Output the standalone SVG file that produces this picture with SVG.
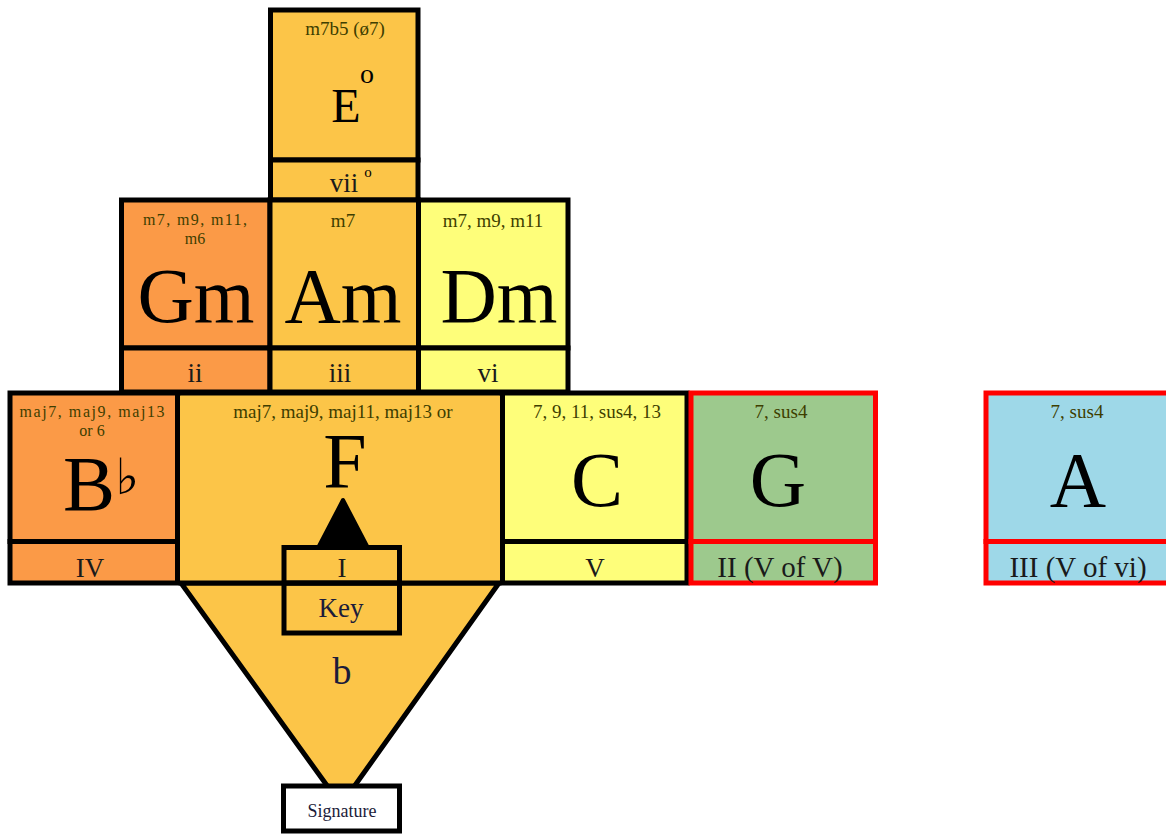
<svg xmlns="http://www.w3.org/2000/svg" width="1166" height="834" viewBox="0 0 1166 834">
<style>
.bx{stroke:#000;stroke-width:5}
.rd{stroke:#f00;stroke-width:5}
.o1{fill:#fcc548}
.o2{fill:#fb9a47}
.yl{fill:#fefe7a}
.gr{fill:#9dc98d}
.bl{fill:#9ed8e8}
text{font-family:"Liberation Serif","Times New Roman",serif;text-anchor:middle}
.sm{font-size:19px;fill:#3e3e00}
.sm2{font-size:16px;fill:#3e3e00}
.big{font-size:78px;fill:#000}
.num{font-size:27px;fill:#1a1a1a}
.nv{fill:#1c1c3a}
</style>
<g id="signature-cone">
<polygon points="181,583 499,583 341,805" class="o1 bx" stroke-linejoin="miter"/>
</g>
<g id="node-E">
<rect x="270.5" y="10" width="147.5" height="150" class="o1 bx"/>
<rect x="270.5" y="160" width="147.5" height="40" class="o1 bx"/>
<text x="345" y="35" class="sm">m7b5 (ø7)</text>
<text x="346" y="122" style="font-size:48px">E</text>
<text x="367" y="83" style="font-size:28px">o</text>
<text x="344" y="192" class="num">vii</text>
<text x="368" y="177" style="font-size:15px">o</text>
</g>
<g id="node-Gm">
<rect x="121.5" y="200" width="148.5" height="148" class="o2 bx"/>
<rect x="121.5" y="348" width="148.5" height="44" class="o2 bx"/>
<text x="195" y="225" class="sm2" textLength="104" lengthAdjust="spacing">m7, m9, m11,</text>
<text x="195" y="244" class="sm2">m6</text>
<text x="196" y="322" class="big">Gm</text>
<text x="195" y="382" class="num">ii</text>
</g>
<g id="node-Am">
<rect x="270" y="200" width="148.5" height="148" class="o1 bx"/>
<rect x="270" y="348" width="148.5" height="44" class="o1 bx"/>
<text x="343" y="227" class="sm">m7</text>
<text x="343" y="322" class="big">Am</text>
<text x="340" y="382" class="num">iii</text>
</g>
<g id="node-Dm">
<rect x="418.5" y="200" width="149.5" height="148" class="yl bx"/>
<rect x="418.5" y="348" width="149.5" height="44" class="yl bx"/>
<text x="493" y="227" class="sm">m7, m9, m11</text>
<text x="499" y="322" class="big">Dm</text>
<text x="488" y="382" class="num">vi</text>
</g>
<g id="node-Bb">
<rect x="10" y="393" width="167.5" height="148.5" class="o2 bx"/>
<rect x="10" y="541.5" width="167.5" height="41.5" class="o2 bx"/>
<text x="92" y="417" class="sm2" textLength="145" lengthAdjust="spacing">maj7, maj9, maj13</text>
<text x="92" y="436" class="sm2">or 6</text>
<text x="89" y="510" class="big">B</text>
<text x="127" y="494" style="font-family:'DejaVu Sans',sans-serif;font-size:50px">♭</text>
<text x="90" y="577" class="num">IV</text>
</g>
<g id="node-F">
<rect x="177.5" y="393" width="325" height="190" class="o1 bx" rx="3"/>
<text x="343" y="418" class="sm">maj7, maj9, maj11, maj13 or</text>
<text x="345" y="487" class="big">F</text>
<polygon points="343,500 318,548 368,548" fill="#000" stroke="#000" stroke-width="4" stroke-linejoin="round"/>
</g>
<g id="node-C">
<rect x="502.5" y="393" width="184.5" height="148.5" class="yl bx"/>
<rect x="502.5" y="541.5" width="184.5" height="41.5" class="yl bx"/>
<text x="597" y="418" class="sm">7, 9, 11, sus4, 13</text>
<text x="597" y="506" class="big">C</text>
<text x="595" y="577" class="num">V</text>
</g>
<g id="node-G">
<rect x="691" y="393" width="184.5" height="148.5" class="gr rd"/>
<rect x="691" y="541.5" width="184.5" height="41.5" class="gr rd"/>
<text x="781" y="418" class="sm">7, sus4</text>
<text x="778" y="506" class="big">G</text>
<text x="780" y="577" class="num" style="font-size:29px">II (V of V)</text>
</g>
<g id="node-A">
<rect x="986" y="393" width="190" height="148.5" class="bl rd"/>
<rect x="986" y="541.5" width="190" height="41.5" class="bl rd"/>
<text x="1077" y="418" class="sm">7, sus4</text>
<text x="1078" y="506" class="big">A</text>
<text x="1078" y="577" class="num" style="font-size:29px">III (V of vi)</text>
</g>
<g id="node-key">
<rect x="284" y="547.5" width="115.5" height="85.5" fill="none" class="bx"/>
<line x1="284" y1="583" x2="399.5" y2="583" class="bx"/>
<text x="342" y="577" class="num">I</text>
<text x="341" y="617" class="num nv">Key</text>
<text x="342" y="684" class="nv" style="font-size:38px">b</text>
</g>
<g id="node-signature">
<rect x="283.5" y="786" width="116" height="45" fill="#fff" class="bx"/>
<text x="342" y="817" class="nv" style="font-size:18px">Signature</text>
</g>
<g id="connectors"/>
</svg>
